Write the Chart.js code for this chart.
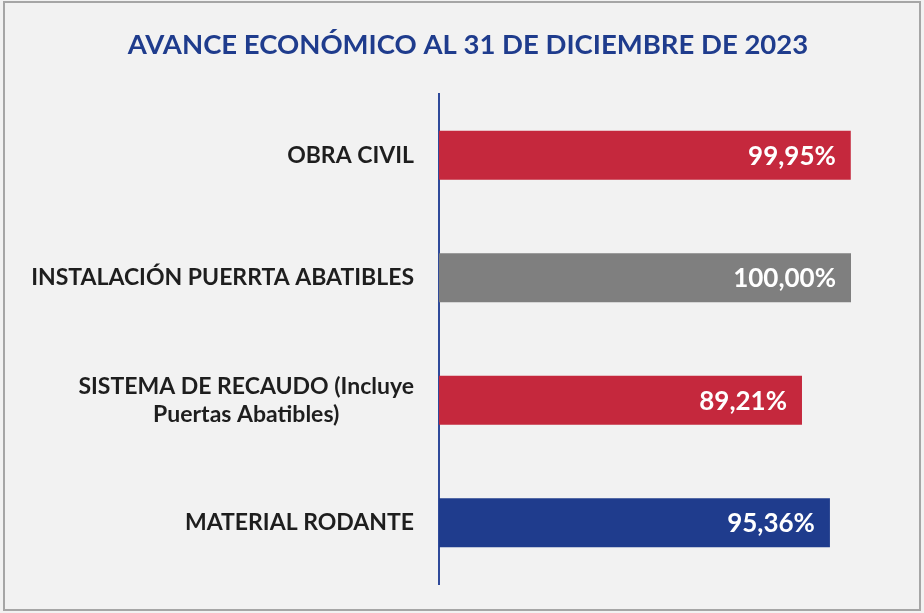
<!DOCTYPE html>
<html>
<head>
<meta charset="utf-8">
<script src="https://cdn.jsdelivr.net/npm/chart.js@4.4.1/dist/chart.umd.min.js"></script>
<style>
html,body{margin:0;padding:0;background:#f2f2f2;}
#wrap{width:924px;height:613px;position:relative;}
</style>
</head>
<body>
<div id="wrap"><canvas id="c" width="924" height="613"></canvas></div>
<script>
const titleText = 'AVANCE ECONÓMICO AL 31 DE DICIEMBRE DE 2023';
const categories = [
  ['OBRA CIVIL'],
  ['INSTALACIÓN PUERRTA ABATIBLES'],
  ['SISTEMA DE RECAUDO (Incluye', 'Puertas Abatibles)'],
  ['MATERIAL RODANTE']
];
const values = [99.95, 100.00, 89.21, 95.36];
const valueLabels = ['99,95%', '100,00%', '89,21%', '95,36%'];
const barColors = ['#C5283D', '#7F7F7F', '#C5283D', '#1F3C8D'];

const bgPlugin = {
  id: 'bg',
  beforeDraw(chart) {
    const ctx = chart.ctx;
    ctx.save();
    ctx.fillStyle = '#f2f2f2';
    ctx.fillRect(0, 0, chart.width, chart.height);
    ctx.strokeStyle = '#a6a6a6';
    ctx.lineWidth = 2;
    ctx.strokeRect(4, 2, 916, 608);
    ctx.fillStyle = '#1F3C8D';
    ctx.font = 'bold 27.5px Lato';
    ctx.textAlign = 'center';
    ctx.textBaseline = 'middle';
    ctx.fillText(titleText, 468, 45);
    ctx.restore();
  }
};

const tickPlugin = {
  id: 'ticklabels',
  afterDraw(chart) {
    const ctx = chart.ctx;
    const scale = chart.scales.y;
    const right = scale.right - 25;
    const lh = 28;
    ctx.save();
    ctx.fillStyle = '#1e1e1e';
    ctx.font = 'bold 23px Lato';
    ctx.textAlign = 'center';
    ctx.textBaseline = 'middle';
    scale.ticks.forEach((t, i) => {
      const lines = [].concat(chart.data.labels[i]);
      const w = Math.max(...lines.map(l => ctx.measureText(l).width));
      const cx = right - w / 2;
      const yc = scale.getPixelForTick(i);
      lines.forEach((l, j) => {
        ctx.fillText(l, cx, yc + (j - (lines.length - 1) / 2) * lh);
      });
    });
    ctx.restore();
  }
};

const labelPlugin = {
  id: 'vals',
  afterDatasetsDraw(chart) {
    const ctx = chart.ctx;
    const meta = chart.getDatasetMeta(0);
    ctx.save();
    ctx.fillStyle = '#ffffff';
    ctx.font = 'bold 26px Lato';
    ctx.textAlign = 'right';
    ctx.textBaseline = 'middle';
    meta.data.forEach((bar, i) => {
      ctx.fillText(valueLabels[i], bar.x - 15, bar.y + 1);
    });
    ctx.restore();
  }
};

new Chart(document.getElementById('c'), {
  type: 'bar',
  data: {
    labels: categories,
    datasets: [{
      data: values,
      backgroundColor: barColors,
      borderWidth: 0,
      barPercentage: 0.8,
      categoryPercentage: 0.5
    }]
  },
  options: {
    indexAxis: 'y',
    responsive: false,
    animation: false,
    devicePixelRatio: 1,
    layout: { padding: { top: 94, bottom: 29, right: 73, left: 0 } },
    plugins: { legend: { display: false }, tooltip: { enabled: false }, title: { display: false } },
    scales: {
      x: { display: false, min: 9.3, max: 100 },
      y: {
        afterFit(scale) { scale.width = 439; },
        grid: { display: false },
        border: { display: true, color: '#2F4A9A', width: 2 },
        ticks: { display: false }
      }
    }
  },
  plugins: [bgPlugin, labelPlugin, tickPlugin]
});
</script>
</body>
</html>
